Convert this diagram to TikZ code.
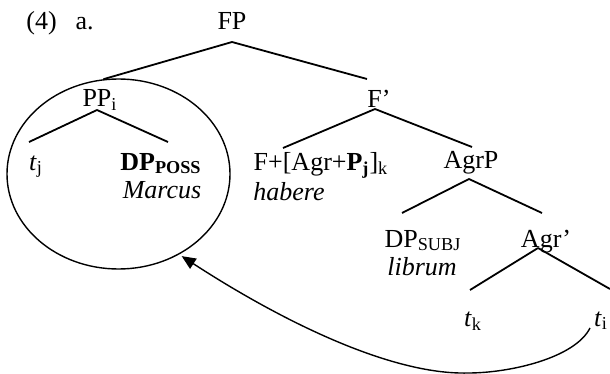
\documentclass[tikz,border=0pt]{standalone}
\usepackage{fontspec}
\setmainfont{Liberation Serif}
\usetikzlibrary{
    arrows.meta,
    shapes.geometric
}

\begin{document}
\begin{tikzpicture}[x=0.5pt, y=-0.5pt,
    word/.style={anchor=base, inner sep=0pt, font=\fontsize{13}{15}\selectfont},
    branch/.style={line width=0.9pt},
    move/.style={line width=0.7pt, -{Triangle[length=7pt, width=6pt]}, shorten >=1.5pt}]
                                \useasboundingbox (0,0) rectangle (610,374);
                                \node[word, anchor=base west] (ex) at (26,30) {(4)\hspace{9.5pt}a.};
                                \node[word] (fp) at (232,30) {FP};
                                \node[word] (pp) at (100,107) {PP\textsubscript{i}};
                                \node[word] (fbar) at (379,108) {F’};
                                \node[word] (tj) at (36,170) {\textit{t}\textsubscript{j}};
                                \node[word] (dpposs) at (161,170) {\textbf{DP\textsubscript{POSS}}};
                                \node[word] (marcus) at (162,198) {\textit{Marcus}};
                                \node[word] (fagr) at (321,170) {F+[Agr+\textbf{P\textsubscript{j}}]\textsubscript{k}};
                                \node[word] (habere) at (289,200) {\textit{habere}};
                                \node[word] (agrp) at (471,169) {AgrP};
                                \node[word] (dpsubj) at (423,247) {DP\textsubscript{SUBJ}};
                                \node[word] (librum) at (422,275) {\textit{librum}};
                                \node[word] (agrbar) at (546,247) {Agr’};
                                \node[word] (tk) at (473,326) {\textit{t}\textsubscript{k}};
                                \node[word] (ti) at (601,326) {\textit{t}\textsubscript{i}};
                                \node[draw, ellipse, line width=0.7pt, minimum width=111.5pt,
                                    minimum height=95pt, inner sep=0pt] (ring) at (118.5,174) {};
                                \draw[branch]
                                ([shift={(0,12)}]fp.base) edge (ring.99)
                                ([shift={(0,12)}]fp.base) edge ([shift={(-12,-29)}]fbar.base)
                                ([shift={(-3,3)}]pp.base) edge ([shift={(-7,-28)}]tj.base)
                                ([shift={(-3,3)}]pp.base) edge ([shift={(7,-28)}]dpposs.base)
                                ([shift={(-4,1)}]fbar.base) edge ([shift={(-38,-22)}]fagr.base)
                                ([shift={(-4,1)}]fbar.base) edge ([shift={(1,-22)}]agrp.base)
                                ([shift={(-2,10)}]agrp.base) edge ([shift={(-21,-34)}]dpsubj.base)
                                ([shift={(-2,10)}]agrp.base) edge ([shift={(-4,-34)}]agrbar.base)
                                ([shift={(-8,1)}]agrbar.base) edge ([shift={(-3,-36)}]tk.base)
                                ([shift={(-8,1)}]agrbar.base) edge ([shift={(9,-37)}]ti.base);
                                \draw[move] ([shift={(-11,2)}]ti.base)
                                .. controls (575,358) and (510,373) .. (468,373)
                                .. controls (390,375) and (280,320) .. (ring.-53);
                            \end{tikzpicture}
\end{document}
